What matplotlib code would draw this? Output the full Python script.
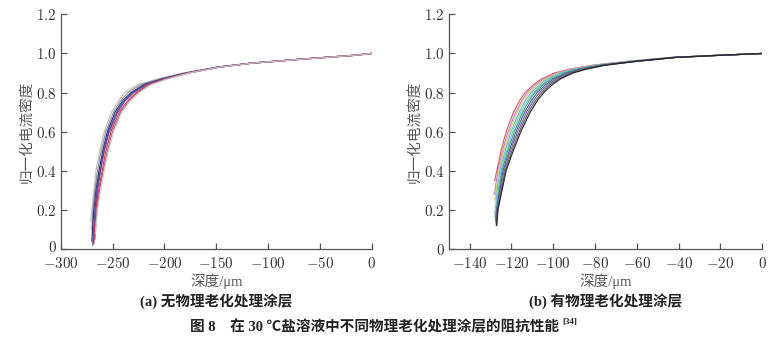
"""
Normalized current density vs depth for coatings with / without physical ageing.
"""

import matplotlib
matplotlib.use("Agg")
import matplotlib.pyplot as plt
from matplotlib.ticker import FuncFormatter
from matplotlib.transforms import ScaledTranslation

SERIF_CJK = ["Liberation Serif", "Noto Sans CJK SC"]
plt.rcParams["font.family"] = SERIF_CJK
plt.rcParams["mathtext.fontset"] = "cm"

# ---- panel (a): no physical ageing ----
A_LEVELS = [0.2, 0.3, 0.4, 0.5, 0.6, 0.7, 0.76, 0.8, 0.84, 0.87, 0.9, 0.93, 0.95, 0.97, 0.99, 1.0]
A_COLORS = ["#bdbdbd", "#8e8e8e", "#1f2a7a", "#3a46a8", "#6a3d8f", "#d0314a", "#b0507a", "#c9c9c9"]
A_START_X = [-271, -270, -270, -269, -268.5, -268, -267, -266.5]
A_START_Y = [0.14, 0.10, 0.04, 0.02, 0.03, 0.03, 0.05, 0.08]
A_DEPTHS = [
	[-270, -268, -266, -262.5, -258, -251, -244, -238, -226, -206, -182, -150, -118, -72, -20, 0],
	[-269, -267, -264.5, -261, -256.5, -249, -242, -235, -223, -204, -180, -149, -117, -71, -19, 0],
	[-268, -266, -263, -259.5, -255, -247.5, -240, -232, -220, -202, -179, -148, -117, -70, -18, 0],
	[-267, -265, -262, -258.5, -254, -246, -238.5, -230.5, -218.5, -201, -178, -148, -117, -70, -18, 0],
	[-266.5, -264.5, -261.5, -258, -253, -245, -237.5, -229.5, -217.5, -200, -178, -147.5, -116.5, -70, -18, 0],
	[-266, -263.5, -260, -256.5, -251.5, -243.5, -235, -227, -216, -199, -177, -147, -116, -69, -18, 0],
	[-265, -262.5, -259, -255, -250, -242, -233.5, -225.5, -214.5, -198, -176.5, -147, -116, -69, -18, 0],
	[-264.5, -261.5, -258, -254, -249, -241, -232.5, -224, -213, -197, -176, -146.5, -116, -69, -18, 0],
]

# ---- panel (b): with physical ageing ----
B_LEVELS = [0.2, 0.3, 0.4, 0.5, 0.6, 0.7, 0.76, 0.8, 0.84, 0.87, 0.9, 0.92, 0.94, 0.96, 0.98, 0.99, 1.0]
B_COLORS = ["#d9566b", "#c77dbb", "#c8c860", "#7fb0d8", "#5cc8c8", "#4a9a5a",
	"#3a5fb0", "#7a5a9a", "#555555", "#222222"]
B_START_X = [-128, -128.3, -128, -128, -127.8, -127.5, -127.5, -127.3, -127.2, -127]
B_START_Y = [0.35, 0.28, 0.25, 0.18, 0.16, 0.15, 0.14, 0.13, 0.12, 0.12]
# None = level below where that curve starts
B_DEPTHS = [
	[None, None, -127, -125, -122.5, -119, -116, -113.5, -109.5, -105.5, -99.5, -92, -81, -64, -43, -22.5, 0],
	[None, -127.8, -126.5, -124.3, -121.7, -118, -115, -112.5, -108.5, -104.5, -98.5, -91, -80.5, -63.5, -43, -22.5, 0],
	[None, -127.3, -126, -123.7, -121, -117.2, -114.2, -111.6, -107.6, -103.6, -97.5, -90.3, -79.8, -63, -42.5, -22, 0],
	[-127.7, -126.8, -125.5, -123, -120.2, -116.3, -113.2, -110.6, -106.6, -102.6, -96.5, -89.5, -79, -62.5, -42.5, -22, 0],
	[-127.4, -126.3, -125, -122.4, -119.4, -115.5, -112.3, -109.7, -105.7, -101.7, -95.5, -88.7, -78.3, -62, -42, -22, 0],
	[-127.1, -125.9, -124.5, -121.8, -118.6, -114.6, -111.4, -108.8, -104.8, -100.8, -94.5, -87.9, -77.6, -61.5, -42, -22, 0],
	[-127, -125.5, -124, -121.1, -117.8, -113.7, -110.4, -107.7, -103.7, -99.7, -93.5, -87, -77, -61, -41.5, -21.8, 0],
	[-126.8, -125.2, -123.5, -120.5, -117, -112.8, -109.4, -106.6, -102.6, -98.6, -92.5, -86, -76.3, -60.5, -41.5, -21.7, 0],
	[-126.6, -124.8, -123, -119.8, -116.2, -111.9, -108.4, -105.5, -101.5, -97.5, -91.5, -85, -75.6, -60.2, -41.2, -21.6, 0],
	[-126.4, -124.5, -122.5, -119.2, -115.5, -111, -107.5, -104.5, -100.5, -96.5, -90.5, -84, -75, -60, -41, -21.5, 0],
]

A_XTICKS = [-300, -250, -200, -150, -100, -50, 0]
B_XTICKS = [-140, -120, -100, -80, -60, -40, -20, 0]
YTICKS = [0, 0.2, 0.4, 0.6, 0.8, 1.0, 1.2]

AXIS_COLOR = "#555555"
TEXT_COLOR = "#333333"


def fmt_y(v, _):
	return "$0$" if abs(v) < 1e-9 else f"${v:.1f}$"


def fmt_x(v, _):
	return f"${int(round(v))}$"


def draw_panel(ax, levels, starts_x, starts_y, depths, colors, xlim, xticks, caption):
	for sx, sy, dep, c in zip(starts_x, starts_y, depths, colors):
		xs = [sx] + [d for d in dep if d is not None]
		ys = [sy] + [lv for lv, d in zip(levels, dep) if d is not None]
		ax.plot(xs, ys, color=c, lw=0.9, alpha=0.9)
	ax.set_xlim(*xlim)
	ax.set_ylim(0, 1.2)
	ax.set_xticks(xticks)
	ax.set_yticks(YTICKS)
	ax.xaxis.set_major_formatter(FuncFormatter(fmt_x))
	ax.yaxis.set_major_formatter(FuncFormatter(fmt_y))
	for side in ("top", "right"):
		ax.spines[side].set_visible(False)
	for side in ("left", "bottom"):
		ax.spines[side].set_color(AXIS_COLOR)
		ax.spines[side].set_linewidth(0.9)
	ax.tick_params(direction="in", length=4, width=0.9, color=AXIS_COLOR,
		labelsize=10.8, labelcolor=TEXT_COLOR)
	ax.tick_params(axis="x", pad=5)
	ax.tick_params(axis="y", pad=3)
	ax.set_ylabel("归一化电流密度", family="Noto Sans CJK SC", fontsize=10.5,
		color="#555555", labelpad=2)
	ax.set_xlabel("深度/μm", family=SERIF_CJK, fontsize=10.5, color="#555555", labelpad=1.5)
	ax.text(0.5, -0.19, caption, transform=ax.transAxes, ha="center", va="top",
		fontsize=10.5, fontweight="bold", family=SERIF_CJK, color="#222222")


def main():
	fig = plt.figure(figsize=(7.78, 3.42), dpi=100)
	ax_a = fig.add_axes([0.078, 0.272, 0.3997, 0.686])
	ax_b = fig.add_axes([0.5767, 0.272, 0.4031, 0.686])

	draw_panel(ax_a, A_LEVELS, A_START_X, A_START_Y, A_DEPTHS, A_COLORS,
		(-300, 0), A_XTICKS, "(a) 无物理老化处理涂层")
	draw_panel(ax_b, B_LEVELS, B_START_X, B_START_Y, B_DEPTHS, B_COLORS,
		(-150, 0), B_XTICKS, "(b) 有物理老化处理涂层")

	title = fig.text(190 / 778, 1 - 327 / 342, "图 8　在 30 ℃盐溶液中不同物理老化处理涂层的阻抗性能",
		ha="left", va="center", fontsize=10.5, fontweight="bold", family=SERIF_CJK,
		color="#222222")
	fig.canvas.draw()
	bb = title.get_window_extent()
	fig.text((bb.x1 + 3) / 778, 1 - 322 / 342, "[34]", ha="left", va="center",
		fontsize=6.5, fontweight="bold", family=SERIF_CJK, color="#222222")

	# nudge the "0" on the left y-axis up a little so it clears "-300"
	zero_label = ax_a.yaxis.get_major_ticks()[0].label1
	zero_label.set_transform(zero_label.get_transform()
		+ ScaledTranslation(0, 2.5 / 100, fig.dpi_scale_trans))

	fig.savefig("out.png", dpi=100)


if __name__ == "__main__":
	main()
